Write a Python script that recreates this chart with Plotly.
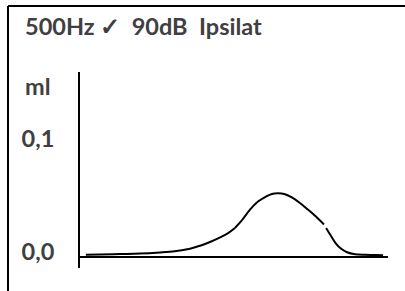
import plotly.graph_objects as go

# ---- data (x in arbitrary time units 0..100, y in ml) ----
seg1_x = [1.9, 6.5, 13.0, 19.5, 26.0, 30.8, 35.7, 39.0, 42.2, 45.5, 48.1, 50.3]
seg1_y = [0.0020, 0.0022, 0.0026, 0.0030, 0.0040, 0.0051, 0.0073, 0.0100, 0.0133, 0.0174, 0.0212, 0.0257]

seg2_x = [50.3, 52.6, 55.2, 57.8, 60.4, 62.3, 64.3, 66.6, 68.8, 71.4, 74.0, 76.6, 79.2]
seg2_y = [0.0257, 0.0327, 0.0420, 0.0491, 0.0535, 0.0558, 0.0564, 0.0555, 0.0527, 0.0478, 0.0420, 0.0358, 0.0288]

seg3_x = [79.9, 81.5, 83.1, 84.7, 86.7, 89.3, 92.5, 95.8, 98.4]
seg3_y = [0.0257, 0.0186, 0.0119, 0.0075, 0.0042, 0.0024, 0.0019, 0.0018, 0.0015]

tick_vals = [0.0, 0.1]
tick_text = ["0,0", "0,1"]
title_text = "500Hz \u2713  90dB  Ipsilat"
unit_text = "ml"

W, H = 405, 291
FONT = "Lato"
GREY = "#404040"
FS = 23.5

fig = go.Figure()
for xs, ys in [(seg1_x, seg1_y), (seg2_x, seg2_y), (seg3_x, seg3_y)]:
    fig.add_trace(go.Scatter(x=xs, y=ys, mode="lines", line=dict(color="black", width=2, shape="spline"),
                             showlegend=False, hoverinfo="skip"))

fig.update_layout(
    width=W, height=H,
    margin=dict(l=0, r=0, t=0, b=0),
    paper_bgcolor="white", plot_bgcolor="white",
    xaxis=dict(domain=[80 / W, 388 / W], range=[0, 100], showgrid=False, zeroline=False,
               showticklabels=False, ticks="", showline=True, linecolor="black", linewidth=2,
               anchor="free", position=1 - 257 / H),
    yaxis=dict(domain=[1 - 268 / H, 1 - 72 / H], range=[-11 / 1130, 185 / 1130], showgrid=False,
               zeroline=False, tickvals=tick_vals, ticktext=tick_text, ticks="",
               showline=True, linecolor="black", linewidth=2,
               ticklabelstandoff=19, ticklabelshift=-5,
               tickfont=dict(family=FONT, size=FS, color=GREY, weight="bold")),
    shapes=[
        dict(type="line", xref="paper", yref="paper", x0=8 / W, x1=1, y0=1 - 6 / H, y1=1 - 6 / H,
             line=dict(color="black", width=2)),
        dict(type="line", xref="paper", yref="paper", x0=8 / W, x1=8 / W, y0=0, y1=1 - 6 / H,
             line=dict(color="black", width=2)),
    ],
    annotations=[
        dict(text=title_text, xref="paper", yref="paper", x=23 / W, y=1 - 26 / H, xanchor="left",
             yanchor="middle", showarrow=False,
             font=dict(family=FONT, size=FS, color=GREY, weight="bold")),
        dict(text=unit_text, xref="paper", yref="paper", x=23 / W, y=1 - 86 / H, xanchor="left",
             yanchor="middle", showarrow=False,
             font=dict(family=FONT, size=FS, color=GREY, weight="bold")),
    ],
)

fig.write_html("out.html", config={"displayModeBar": False},
               post_script="document.body.style.margin='0';document.body.style.overflow='hidden';")
